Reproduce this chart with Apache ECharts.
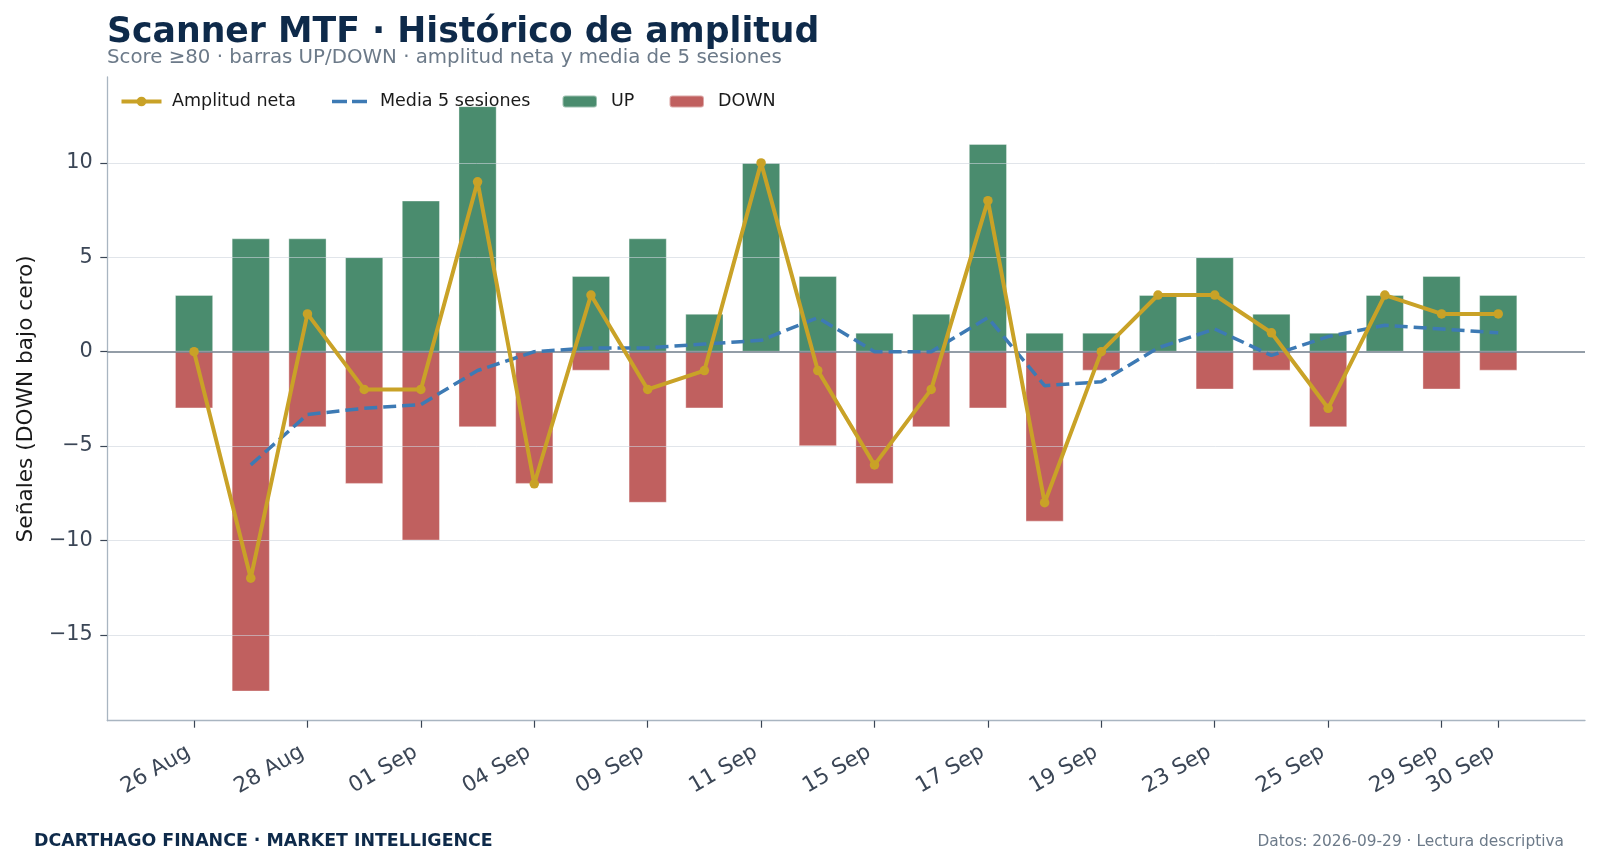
<!DOCTYPE html>
<html><head><meta charset="utf-8">
<script src="https://cdn.jsdelivr.net/npm/echarts@6/dist/echarts.min.js"></script>
<style>html,body{margin:0;padding:0;background:#fff}#c{width:1600px;height:866px}</style>
</head><body><div id="c"></div>
<script>
// ---- data ----
const categories = ['26 Aug','27 Aug','28 Aug','31 Aug','01 Sep','02 Sep','04 Sep','08 Sep','09 Sep','10 Sep','11 Sep','14 Sep','15 Sep','16 Sep','17 Sep','18 Sep','19 Sep','22 Sep','23 Sep','24 Sep','25 Sep','28 Sep','29 Sep','30 Sep'];
const labelIndex = [0,2,4,6,8,10,12,14,16,18,20,22,23];
const upValues   = [3,6,6,5,8,13,0,4,6,2,10,4,1,2,11,1,1,3,5,2,1,3,4,3];
const downValues = [-3,-18,-4,-7,-10,-4,-7,-1,-8,-3,0,-5,-7,-4,-3,-9,-1,0,-2,-1,-4,0,-2,-1];
const netValues  = [0,-12,2,-2,-2,9,-7,3,-2,-1,10,-1,-6,-2,8,-8,0,3,3,1,-3,3,2,2];
const ma5Values  = [null,-6,-3.33,-3,-2.8,-1,0,0.2,0.2,0.4,0.6,1.8,0,0,1.8,-1.8,-1.6,0.2,1.2,-0.2,0.8,1.4,1.2,1.0];
const yTickValues = [-15,-10,-5,0,5,10];

const FONT = 'DejaVu Sans';
const chart = echarts.init(document.getElementById('c'), null, {renderer:'canvas'});
const pairs = arr => arr.map((v,i) => [i, v]);
const fmtNum = v => (v < 0 ? '\u2212' + Math.abs(v) : String(v));

const LEG_FONT = 17.5;
function legendItem(name, left, extra, gap) {
  return Object.assign({
    data: [name], left: left, top: 92.5, padding: 0, selectedMode: false,
    itemHeight: 12,
    textStyle: {fontFamily: FONT, fontSize: LEG_FONT, color: '#1a1a1a', padding: [0,0,0,gap]}
  }, extra);
}

chart.setOption({
  animation: false,
  backgroundColor: '#ffffff',
  textStyle: {fontFamily: FONT},
  grid: {left: 107.3, right: 15, top: 77, bottom: 145.3, containLabel: false},
  legend: [
    legendItem('Amplitud neta', 119.5, {itemWidth: 40, lineStyle: {width: 4}}, 5.5),
    legendItem('Media 5 sesiones', 332, {itemWidth: 35, itemHeight: 3.6,
      data: [{name: 'Media 5 sesiones', icon: 'path://M0,0H15V3.6H0Z M20,0H35V3.6H20Z',
        itemStyle: {color: '#3d7ab4', borderWidth: 0}}]}, 8),
    legendItem('UP', 561.5, {itemWidth: 34.5}, 9),
    legendItem('DOWN', 668.5, {itemWidth: 34.5}, 9)
  ],
  xAxis: {
    type: 'value', min: -1.53, max: 24.53,
    axisLine: {show: true, onZero: false, lineStyle: {color: '#a9b5c1', width: 1.3}},
    axisTick: {show: true, customValues: labelIndex, length: 7, lineStyle: {color: '#3b4656', width: 1.2}},
    axisLabel: {customValues: labelIndex, rotate: 30, margin: 27, padding: [0,6,0,0],
      formatter: v => categories[Math.round(v)] || '',
      fontFamily: FONT, fontSize: 21.5, color: '#3b4656'},
    splitLine: {show: false}
  },
  yAxis: {
    type: 'value', min: -19.55, max: 14.55,
    name: 'Señales (DOWN bajo cero)', nameLocation: 'middle', nameGap: 70,
    nameTextStyle: {fontFamily: FONT, fontSize: 21.7, color: '#1a1a1a'},
    axisLine: {show: true, onZero: false, lineStyle: {color: '#a9b5c1', width: 1.3}},
    axisTick: {show: true, customValues: yTickValues, length: 7, lineStyle: {color: '#3b4656', width: 1.2}},
    axisLabel: {customValues: yTickValues, margin: 14.5, padding: [4,0,0,0], formatter: v => fmtNum(v),
      fontFamily: FONT, fontSize: 20.8, color: '#3b4656'},
    splitLine: {show: false}
  },
  series: [
    {
      name: 'UP', type: 'bar', data: pairs(upValues), barWidth: 38, barGap: '-100%',
      itemStyle: {color: '#4a8c6e', borderColor: 'rgba(255,255,255,0.45)', borderWidth: 0.8},
      markLine: {
        silent: true, symbol: 'none', label: {show: false},
        lineStyle: {color: 'rgba(205,212,220,0.6)', width: 1, type: 'solid'},
        data: yTickValues.filter(v => v !== 0).map(v => ({yAxis: v}))
      }
    },
    {
      name: 'DOWN', type: 'bar', data: pairs(downValues), barWidth: 38, barGap: '-100%',
      itemStyle: {color: '#c0605f', borderColor: 'rgba(255,255,255,0.45)', borderWidth: 0.8},
      markLine: {
        silent: true, symbol: 'none', label: {show: false},
        lineStyle: {color: '#6f7c8a', width: 1.7, type: 'solid'},
        data: [{yAxis: 0}]
      }
    },
    {
      name: 'Media 5 sesiones', type: 'line', data: pairs(ma5Values), z: 10,
      showSymbol: false, symbol: 'none', connectNulls: false,
      lineStyle: {color: '#3d7ab4', width: 3.5, type: [13, 6]},
      itemStyle: {color: '#3d7ab4'}
    },
    {
      name: 'Amplitud neta', type: 'line', data: pairs(netValues), z: 11,
      symbol: 'circle', symbolSize: 9.5,
      lineStyle: {color: '#c9a227', width: 4},
      itemStyle: {color: '#c9a227'}
    }
  ],
  graphic: [
    {type: 'text', left: 107, top: 15.5, silent: true,
      style: {text: 'Scanner MTF · Histórico de amplitud', fontFamily: FONT, fontWeight: 'bold', fontSize: 34.7, fill: '#0e2a4a'}},
    {type: 'text', left: 107, top: 48, silent: true,
      style: {text: 'Score ≥80 · barras UP/DOWN · amplitud neta y media de 5 sesiones', fontFamily: FONT, fontSize: 19.8, fill: '#6c7a89'}},
    {type: 'text', left: 34, top: 833, silent: true,
      style: {text: 'DCARTHAGO FINANCE · MARKET INTELLIGENCE', fontFamily: FONT, fontWeight: 'bold', fontSize: 17.4, fill: '#0e2a4a'}},
    {type: 'text', right: 36, top: 834, silent: true,
      style: {text: 'Datos: 2026-09-29 · Lectura descriptiva', fontFamily: FONT, fontSize: 15.4, fill: '#6c7a89'}}
  ]
});
</script>
</body></html>
